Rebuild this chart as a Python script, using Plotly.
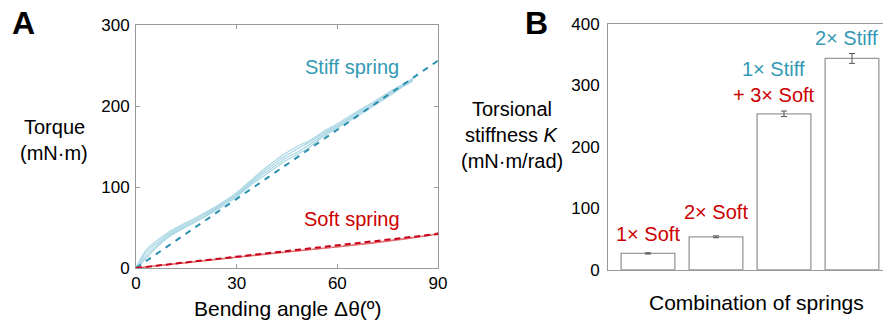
import plotly.graph_objects as go

W, H = 883, 320

# ---------------- Panel A data ----------------
stiff_angle = [0, 1.5, 3, 6, 10, 15, 20, 25, 30, 35, 40, 44, 48, 52, 55.7, 60, 65.8, 70, 75.7, 80, 82.5]
stiff_run1 = [0, 12, 22, 33, 45, 56, 67, 79, 93, 111, 128, 140, 150, 158, 168, 178, 193, 203, 218, 228, 234]
stiff_run2 = [0, 10, 19, 30, 43, 54, 65, 77, 91, 109, 125, 137, 147, 156, 166, 176, 191, 201, 216, 227, 233]
stiff_run3 = [0, 7, 15, 27, 41, 52, 63, 76, 90, 107, 122, 134, 143, 153, 164, 175, 189, 200, 215, 226, 232]
stiff_run4 = [0, 5, 12, 25, 39, 51, 62, 74, 88, 105, 119, 131, 140, 150, 162, 173, 187, 198, 213, 225, 231]
stiff_fit_angle = [0, 90]
stiff_fit_torque = [0, 256]

soft_angle = [0, 10, 20, 30, 40, 50, 60, 70, 80, 88, 90, 89]
soft_run1 = [0, 4.6, 9.2, 13.6, 18.0, 22.0, 26.0, 31.0, 36.0, 40.5, 43.5, 42.5]
soft_run2 = [0, 4.3, 8.8, 13.2, 17.4, 21.5, 25.5, 30.5, 35.5, 40.0, 42.0, 41.5]
soft_fit_angle = [0, 90]
soft_fit_torque = [0, 42]

# ---------------- Panel B data ----------------
combo_pos = [0, 1, 2, 3]
stiffness = [27, 54, 254, 344]
stiffness_err = [1, 1.5, 4.5, 8]

STIFF_TXT = "#3399b5"
STIFF_LINE = "#a9d6e3"
STIFF_DASH = "#2b8fb0"
SOFT_TXT = "#cc0000"
SOFT_LINE = "#e27070"
SOFT_DASH = "#c8001a"
FONT = "Liberation Sans, Arial, sans-serif"

fig = go.Figure()

for run in [stiff_run1, stiff_run2, stiff_run3, stiff_run4]:
    fig.add_trace(go.Scatter(x=stiff_angle, y=run, mode="lines",
                             line=dict(color=STIFF_LINE, width=1.2, shape="spline", smoothing=0.5),
                             xaxis="x", yaxis="y", showlegend=False))
fig.add_trace(go.Scatter(x=stiff_fit_angle, y=stiff_fit_torque, mode="lines",
                         line=dict(color=STIFF_DASH, width=2, dash="6px,6px"),
                         xaxis="x", yaxis="y", showlegend=False))
for run in [soft_run1, soft_run2]:
    fig.add_trace(go.Scatter(x=soft_angle, y=run, mode="lines",
                             line=dict(color=SOFT_LINE, width=1.2),
                             xaxis="x", yaxis="y", showlegend=False))
fig.add_trace(go.Scatter(x=soft_fit_angle, y=soft_fit_torque, mode="lines",
                         line=dict(color=SOFT_DASH, width=2, dash="6px,4px"),
                         xaxis="x", yaxis="y", showlegend=False))

fig.add_trace(go.Bar(x=combo_pos, y=stiffness, width=0.79,
                     marker=dict(color="white", line=dict(color="#999999", width=1.3)),
                     error_y=dict(type="data", array=stiffness_err, color="#555555",
                                  thickness=1, width=3),
                     xaxis="x2", yaxis="y2", showlegend=False))


def px(x):
    return x / W


def py(y):
    return 1 - y / H


ann = []
def add(text, x, y, size=20, color="black", xref="paper", yref="paper", **kw):
    ann.append(dict(text=text, x=x, y=y, xref=xref, yref=yref, showarrow=False,
                    xanchor="center", yanchor="middle",
                    font=dict(size=size, color=color, family=FONT), **kw))

# panel letters
add("<b>A</b>", px(23), py(23), size=32)
add("<b>B</b>", px(536), py(23), size=32)
# panel A titles
add("Torque", px(54), py(127))
add("(mN·m)", px(54), py(153))
add("Bending angle Δθ(º)", px(287), py(308), size=21)
add("Stiff spring", 64.4, 248, color=STIFF_TXT, xref="x", yref="y")
add("Soft spring", 64.4, 60.5, color=SOFT_TXT, xref="x", yref="y")
# panel B titles
add("Torsional", px(512), py(109))
add("stiffness <i>K</i>", px(512), py(135))
add("(mN·m/rad)", px(512), py(161))
add("Combination of springs", px(756), py(302), size=21)
add("1× Soft", 0, 58.5, color=SOFT_TXT, xref="x2", yref="y2")
add("2× Soft", 1, 94, color=SOFT_TXT, xref="x2", yref="y2")
add("1× Stiff", 2, 327, color=STIFF_TXT, xref="x2", yref="y2", xshift=-10)
add("+ 3× Soft", 2, 284.6, color=SOFT_TXT, xref="x2", yref="y2", xshift=-10)
add("2× Stiff", 3, 377, color=STIFF_TXT, xref="x2", yref="y2", xshift=-5)

axcol = "#999999"
fig.update_layout(
    width=W, height=H, margin=dict(l=0, r=0, t=0, b=0, autoexpand=False),
    paper_bgcolor="white", plot_bgcolor="white",
    font=dict(family=FONT, size=17, color="black"),
    annotations=ann,
    xaxis=dict(domain=[px(136), px(438)], range=[0, 90], tickvals=[0, 30, 60, 90],
               showgrid=False, zeroline=False, showline=True, linecolor=axcol,
               linewidth=1, mirror="ticks", ticks="inside", ticklen=4, automargin=False,
               tickcolor=axcol, tickfont=dict(size=17), anchor="y"),
    yaxis=dict(domain=[py(268), py(25)], range=[0, 300], tickvals=[0, 100, 200, 300],
               showgrid=False, zeroline=False, showline=True, linecolor=axcol,
               linewidth=1, mirror="ticks", ticks="inside", ticklen=4, automargin=False,
               tickcolor=axcol, tickfont=dict(size=17), anchor="x", ticklabelstandoff=2),
    xaxis2=dict(domain=[px(608), 1.0], range=[-0.588, 3.456], showticklabels=False,
                showgrid=False, zeroline=False, showline=True, linecolor=axcol,
                linewidth=1, mirror=True, ticks="", anchor="y2", automargin=False),
    yaxis2=dict(domain=[py(270), py(24)], range=[0, 400], tickvals=[0, 100, 200, 300, 400],
                showgrid=False, zeroline=False, showline=True, linecolor=axcol,
                linewidth=1, ticks="", tickfont=dict(size=17), anchor="x2", automargin=False,
                ticklabelstandoff=4),
)

fig.write_html("out.html")
